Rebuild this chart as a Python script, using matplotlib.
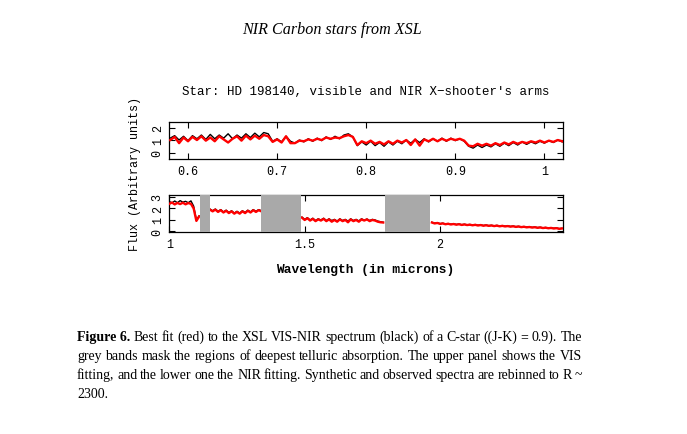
import numpy as np
import matplotlib
matplotlib.use("Agg")
from matplotlib import pyplot as plt

# VIS arm, sampled every 0.005 micron starting at 0.58
vis_start = 0.58
vis_step = 0.005
vis_obs = [1.15, 1.35, 1.00, 1.30, 0.95, 1.35, 1.10, 1.40, 1.05, 1.45,
           1.10, 1.40, 1.15, 1.50, 1.10, 1.40, 1.15, 1.50, 1.20, 1.55,
           1.25, 1.60, 1.50, 0.90, 1.10, 0.85, 1.30, 0.90, 0.75, 1.00,
           0.85, 1.10, 0.90, 1.15, 0.95, 1.25, 1.05, 1.30, 1.10, 1.40,
           1.50, 1.25, 0.55, 0.85, 0.60, 0.90, 0.55, 0.80, 0.50, 0.85,
           0.60, 0.90, 0.70, 1.00, 0.75, 1.05, 0.80, 1.10, 0.85, 1.10,
           0.90, 1.15, 0.90, 1.15, 0.95, 1.10, 0.90, 0.50, 0.35, 0.60,
           0.40, 0.60, 0.45, 0.70, 0.50, 0.75, 0.55, 0.80, 0.60, 0.85,
           0.65, 0.85, 0.70, 0.90, 0.75, 0.95, 0.80, 1.00, 0.85]
vis_fit = [1.00, 1.25, 0.75, 1.20, 0.90, 1.25, 1.00, 1.30, 0.95, 1.20,
           0.90, 1.30, 1.05, 0.80, 1.10, 1.30, 0.95, 1.35, 1.05, 1.35,
           1.10, 1.40, 1.30, 0.85, 1.05, 0.80, 1.30, 0.75, 0.75, 0.95,
           0.90, 1.05, 0.95, 1.10, 1.00, 1.20, 1.10, 1.20, 1.15, 1.30,
           1.40, 1.25, 0.60, 0.90, 0.75, 0.95, 0.70, 0.85, 0.65, 0.90,
           0.70, 0.95, 0.80, 1.00, 0.60, 1.05, 0.55, 1.05, 0.90, 1.10,
           0.90, 1.10, 0.95, 1.10, 1.00, 1.10, 0.95, 0.55, 0.50, 0.70,
           0.55, 0.70, 0.55, 0.75, 0.60, 0.80, 0.65, 0.85, 0.70, 0.85,
           0.75, 0.90, 0.80, 0.95, 0.80, 0.95, 0.85, 1.00, 0.90]

# NIR arm, sampled every 0.01 micron, split by the telluric gaps
nir_step = 0.01
nir_starts = [1.00, 1.15, 1.49, 1.97]
nir_obs = [
    [2.60, 2.48, 2.65, 2.50, 2.68, 2.55, 2.62, 2.50, 2.66, 2.20, 1.00, 1.35],
    [1.95, 1.80, 1.95, 1.75, 1.90, 1.70, 1.85, 1.65, 1.80, 1.60,
     1.75, 1.60, 1.80, 1.65, 1.85, 1.70, 1.90, 1.75, 1.90, 1.80],
    [1.25, 1.05, 1.20, 1.00, 1.15, 0.95, 1.10, 1.00, 1.15, 0.95,
     1.10, 0.95, 1.05, 0.90, 1.10, 0.95, 1.05, 0.90, 1.10, 0.95,
     1.05, 0.92, 1.10, 0.98, 1.08, 0.95, 1.05, 1.00, 0.90, 0.85, 0.80],
    [0.80, 0.72, 0.76, 0.68, 0.72, 0.65, 0.69, 0.63, 0.67, 0.61,
     0.65, 0.59, 0.63, 0.58, 0.61, 0.56, 0.60, 0.54, 0.58, 0.52,
     0.56, 0.51, 0.54, 0.49, 0.53, 0.47, 0.51, 0.46, 0.49, 0.44,
     0.47, 0.42, 0.45, 0.40, 0.43, 0.38, 0.41, 0.36, 0.39, 0.34,
     0.37, 0.32, 0.35, 0.30, 0.33, 0.28, 0.31, 0.25, 0.28],
]
nir_fit = [
    [2.40, 2.52, 2.35, 2.48, 2.38, 2.50, 2.36, 2.47, 2.40, 2.00, 0.92, 1.30],
    [1.90, 1.75, 1.90, 1.70, 1.85, 1.65, 1.80, 1.60, 1.75, 1.55,
     1.70, 1.55, 1.75, 1.60, 1.80, 1.65, 1.85, 1.70, 1.85, 1.75],
    [1.20, 1.00, 1.15, 0.95, 1.10, 0.90, 1.05, 0.95, 1.10, 0.90,
     1.05, 0.85, 1.00, 0.85, 1.05, 0.90, 1.00, 0.80, 1.05, 0.90,
     1.00, 0.85, 1.05, 0.95, 1.05, 0.90, 1.00, 0.95, 0.85, 0.80, 0.78],
    [0.78, 0.70, 0.74, 0.66, 0.70, 0.63, 0.67, 0.61, 0.65, 0.59,
     0.63, 0.57, 0.61, 0.56, 0.59, 0.54, 0.58, 0.52, 0.56, 0.50,
     0.54, 0.49, 0.52, 0.47, 0.51, 0.45, 0.49, 0.44, 0.47, 0.42,
     0.45, 0.40, 0.43, 0.38, 0.41, 0.36, 0.39, 0.34, 0.37, 0.32,
     0.35, 0.30, 0.33, 0.28, 0.31, 0.26, 0.29, 0.23, 0.26],
]

# masked telluric regions (microns)
telluric_bands = [(1.113, 1.150), (1.339, 1.486), (1.796, 1.962)]

vis_ticks = [0.6, 0.7, 0.8, 0.9, 1.0]
vis_ticklabels = ["0.6", "0.7", "0.8", "0.9", "1"]
nir_ticks = [1.0, 1.5, 2.0]
nir_ticklabels = ["1", "1.5", "2"]

plot_font = "Liberation Mono"
text_font = ["Liberation Serif", "DejaVu Serif"]

W, H = 687, 435
fig = plt.figure(figsize=(W / 100, H / 100), dpi=100)


def box(left, top, right, bottom):
    # pixel box -> figure fraction
    return [left / W, 1 - bottom / H, (right - left) / W, (bottom - top) / H]


def style_axes(ax, xticks, xlabels, yticks):
    ax.set_xticks(xticks)
    ax.set_xticklabels(xlabels, fontfamily=plot_font, fontsize=8.5)
    ax.set_yticks(yticks)
    ax.set_yticklabels([str(t) for t in yticks], fontfamily=plot_font,
                       fontsize=8.5, rotation=90, va="center")
    ax.tick_params(direction="in", length=4, width=0.8, top=True, right=True,
                   pad=4)
    for s in ax.spines.values():
        s.set_linewidth(0.9)


# upper panel: VIS
ax1 = fig.add_axes(box(169.3, 123.3, 562.5, 160))
vis_wl = vis_start + vis_step * np.arange(len(vis_obs))
ax1.plot(vis_wl, vis_obs, color="black", lw=1.0, zorder=2)
ax1.plot(vis_wl, vis_fit, color="red", lw=1.7, zorder=3)
ax1.set_xlim(0.579, 1.0203)
ax1.set_ylim(-0.52, 2.42)
style_axes(ax1, vis_ticks, vis_ticklabels, [0, 1, 2])

# lower panel: NIR
ax2 = fig.add_axes(box(169.3, 196, 562.7, 233.3))
for start, obs, fit in zip(nir_starts, nir_obs, nir_fit):
    wl = start + nir_step * np.arange(len(obs))
    ax2.plot(wl, obs, color="black", lw=1.0, zorder=2)
    ax2.plot(wl, fit, color="red", lw=1.7, zorder=3)
for lo, hi in telluric_bands:
    ax2.axvspan(lo, hi, color="#a9a9a9", lw=0, zorder=4)
ax2.set_xlim(1.0, 2.453)
ax2.set_ylim(-0.07, 3.17)
style_axes(ax2, nir_ticks, nir_ticklabels, [0, 1, 2, 3])

# chart texts
fig.text(366 / W, 1 - 92 / H, "Star: HD 198140, visible and NIR X\u2212shooter's arms",
         fontfamily=plot_font, fontsize=9.0, ha="center", va="center")
fig.text(365 / W, 1 - 270 / H, "Wavelength (in microns)", fontfamily=plot_font,
         fontsize=9.3, fontweight="bold", ha="center", va="center")
fig.text(135 / W, 1 - 174 / H, "Flux (Arbitrary units)", fontfamily=plot_font,
         fontsize=8.5, rotation=90, ha="center", va="center")

# page header
fig.text(332 / W, 1 - 30 / H, "NIR Carbon stars from XSL", fontfamily=text_font,
         fontstyle="italic", fontsize=11.6, ha="center", va="center")

# caption, justified line by line
caption = [
    ("Figure 6.", "Best fit (red) to the XSL VIS-NIR spectrum (black) of a C-star ((J-K) = 0.9).  The"),
    ("", "grey bands mask the regions of deepest telluric absorption.  The upper panel shows the VIS"),
    ("", "fitting, and the lower one the NIR fitting. Synthetic and observed spectra are rebinned to R ~"),
    ("", "2300."),
]
cap_left, cap_right = 77, 582
cap_base = [341, 360, 379, 398]

renderer = fig.canvas.get_renderer()
for (bold, rest), y in zip(caption, cap_base):
    words = []
    if bold:
        words.append((bold, "bold"))
    words += [(w, "normal") for w in rest.split()]
    texts = []
    for w, weight in words:
        t = fig.text(0, 1 - y / H, w, fontfamily=text_font, fontweight=weight,
                     fontsize=10.0, ha="left", va="baseline")
        texts.append(t)
    widths = [t.get_window_extent(renderer).width for t in texts]
    if len(texts) > 1:
        gap = (cap_right - cap_left - sum(widths)) / (len(texts) - 1)
    else:
        gap = 3.5
    x = cap_left
    for t, w in zip(texts, widths):
        t.set_x(x / W)
        x += w + gap

fig.savefig("out.png", dpi=100)
